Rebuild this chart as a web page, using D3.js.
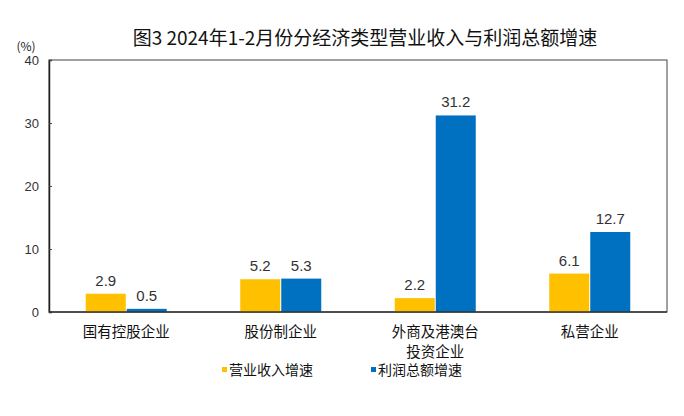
<!DOCTYPE html>
<html><head><meta charset="utf-8">
<script src="https://cdn.jsdelivr.net/npm/d3@7"></script>
<style>body{margin:0;background:#fff;}svg{display:block;font-family:"Noto Sans CJK SC","Noto Sans",sans-serif;}</style>
</head><body>
<svg id="c" width="684" height="416"></svg>
<script>
const categories = [["国有控股企业"],["股份制企业"],["外商及港澳台","投资企业"],["私营企业"]];
const seriesNames = ["营业收入增速","利润总额增速"];
const revenueGrowth = [2.9, 5.2, 2.2, 6.1];
const profitGrowth = [0.5, 5.3, 31.2, 12.7];
const yTicks = [0,10,20,30,40];
const colors = ["#FFC000","#0070C0"];

const svg = d3.select("#c");
const m = {l:49, r:667, t:60, b:312};
const x = d3.scaleBand().domain(d3.range(categories.length)).range([m.l, m.r]).paddingInner(0).paddingOuter(0);
const y = d3.scaleLinear().domain([0,40]).range([m.b, m.t]);
const bw = 40, gap = 1;

svg.append("text").attr("x",365).attr("y",45).attr("text-anchor","middle")
  .attr("font-size",19).attr("fill","#111").text("图3 2024年1-2月份分经济类型营业收入与利润总额增速");
svg.append("text").attr("x",26).attr("y",51).attr("text-anchor","middle").attr("font-size",12).attr("fill","#222").text("(%)");

// frame
svg.append("rect").attr("x",m.l).attr("y",m.t).attr("width",m.r-m.l).attr("height",m.b-m.t)
  .attr("fill","none").attr("stroke","#444").attr("stroke-width",1);

const yAxis = d3.axisLeft(y).tickValues(yTicks).tickSize(-3).tickPadding(10);
const ga = svg.append("g").attr("transform",`translate(${m.l},0)`).call(yAxis);
ga.select(".domain").attr("stroke","#222").attr("stroke-width",1.5);
ga.selectAll("line").attr("stroke","#444");
ga.selectAll("text").attr("font-size",13).attr("fill","#333").attr("font-family","Liberation Sans, Arial, sans-serif");

const series = [revenueGrowth, profitGrowth];
series.forEach((vals, si) => {
  const g = svg.append("g");
  vals.forEach((v,i) => {
    const cx = x(i) + x.bandwidth()/2;
    const bx = si===0 ? cx - bw - gap/2 : cx + gap/2;
    g.append("rect").attr("x",bx).attr("y",y(v)).attr("width",bw).attr("height",y(0)-y(v)).attr("fill",colors[si]);
    g.append("text").attr("x",bx+bw/2).attr("y",y(v)-8).attr("text-anchor","middle")
      .attr("font-size",15).attr("fill","#333").attr("font-family","Liberation Sans, Arial, sans-serif").text(v.toFixed(1));
  });
});

// baseline
svg.append("line").attr("x1",m.l).attr("x2",m.r).attr("y1",m.b).attr("y2",m.b).attr("stroke","#333").attr("stroke-width",1.5);

categories.forEach((lines,i) => {
  const cx = x(i) + x.bandwidth()/2;
  lines.forEach((s,j) => {
    svg.append("text").attr("x",cx).attr("y",337+j*20).attr("text-anchor","middle")
      .attr("font-size",14.5).attr("fill","#111").text(s);
  });
});

const legX = [222, 371];
seriesNames.forEach((n,i) => {
  svg.append("rect").attr("x",legX[i]).attr("y",367).attr("width",5).attr("height",5).attr("fill",colors[i]);
  svg.append("text").attr("x",legX[i]+7).attr("y",375).attr("font-size",14).attr("fill","#111").text(n);
});
</script>
</body></html>
